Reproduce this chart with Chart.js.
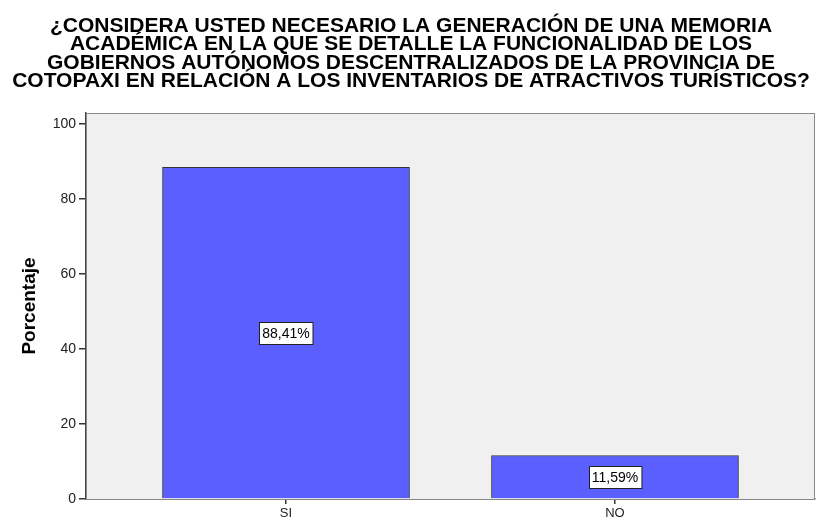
<!DOCTYPE html>
<html>
<head>
<meta charset="utf-8">
<script src="https://cdn.jsdelivr.net/npm/chart.js@4"></script>
<style>
  html, body { margin: 0; padding: 0; background: #fff; }
  #wrap { width: 817px; height: 524px; }
</style>
</head>
<body>
<div id="wrap"><canvas id="grafica" width="817" height="524"></canvas></div>
<script>
// ==============================
// Datos
// ==============================
const categorias = ["SI", "NO"];
const porcentajes = [88.41, 11.59];
const etiquetas = ["88,41%", "11,59%"];
const ticksY = [0, 20, 40, 60, 80, 100];
const titulo = [
  "¿CONSIDERA USTED NECESARIO LA GENERACIÓN DE UNA MEMORIA",
  "ACADÉMICA EN LA QUE SE DETALLE LA FUNCIONALIDAD DE LOS",
  "GOBIERNOS AUTÓNOMOS DESCENTRALIZADOS DE LA PROVINCIA DE",
  "COTOPAXI EN RELACIÓN A LOS INVENTARIOS DE ATRACTIVOS TURÍSTICOS?"
];

const fuente = "'Liberation Sans', Arial, sans-serif";

// ==============================
// Plugins
// ==============================
// titulo con interlineado apretado, como en el original
const tituloPlugin = {
  id: "tituloPlugin",
  afterDraw(chart) {
    const { ctx } = chart;
    ctx.save();
    ctx.font = "bold 21px " + fuente;
    ctx.fillStyle = "#000";
    ctx.textAlign = "center";
    ctx.textBaseline = "middle";
    titulo.forEach((linea, i) => {
      ctx.fillText(linea, 411, 26 + i * 18.5);
    });
    ctx.restore();
  }
};

const fondoPlot = {
  id: "fondoPlot",
  beforeDatasetsDraw(chart) {
    const { ctx, chartArea: a } = chart;
    ctx.save();
    ctx.fillStyle = "#f0f0f0";
    ctx.fillRect(a.left, a.top, a.right - a.left, a.bottom - a.top);
    ctx.strokeStyle = "#888";
    ctx.lineWidth = 1;
    ctx.strokeRect(a.left + 0.5, a.top + 0.5, a.right - a.left - 1, a.bottom - a.top);
    ctx.restore();
  }
};

const etiquetasBarras = {
  id: "etiquetasBarras",
  afterDatasetsDraw(chart) {
    const { ctx } = chart;
    const meta = chart.getDatasetMeta(0);
    ctx.save();
    ctx.font = "14px " + fuente;
    ctx.textAlign = "center";
    ctx.textBaseline = "middle";
    meta.data.forEach((bar, i) => {
      const txt = etiquetas[i];
      const w = ctx.measureText(txt).width + 6;
      const h = 22;
      const cy = (bar.y + bar.base) / 2;
      const x0 = Math.round(bar.x - w / 2) + 0.5;
      const y0 = Math.round(cy - h / 2) + 0.5;
      ctx.fillStyle = "#fff";
      ctx.fillRect(x0, y0, w, h);
      ctx.strokeStyle = "#222";
      ctx.lineWidth = 1;
      ctx.strokeRect(x0, y0, w, h);
      ctx.fillStyle = "#000";
      ctx.fillText(txt, bar.x, cy + 1);
    });
    ctx.restore();
  }
};

// ==============================
// Gráfica
// ==============================
const ctx = document.getElementById("grafica").getContext("2d");
new Chart(ctx, {
  type: "bar",
  data: {
    datasets: [{
      label: "Porcentaje",
      data: porcentajes.map((v, i) => ({ x: i + 1, y: v })),
      backgroundColor: "#5b5fff",
      borderColor: "#333",
      borderWidth: 1,
      barThickness: 247
    }]
  },
  options: {
    responsive: false,
    animation: false,
    layout: { padding: { left: 0, right: 2, top: 113, bottom: 0 } },
    plugins: {
      legend: { display: false },
      tooltip: { enabled: false },
      title: { display: false }
    },
    scales: {
      x: {
        type: "linear",
        offset: false,
        min: 0.392,
        max: 2.608,
        afterBuildTicks: s => { s.ticks = categorias.map((c, i) => ({ value: i + 1 })); },
        afterFit: s => { s.height = 25; },
        ticks: {
          color: "#222",
          font: { family: fuente, size: 13 },
          padding: 2,
          callback: v => categorias[v - 1] || ""
        },
        grid: { offset: false, drawOnChartArea: false, drawTicks: true, tickLength: 5, color: "#333", lineWidth: 1.5 },
        border: { display: true, color: "#444", width: 1.5 }
      },
      y: {
        min: 0,
        max: 102.93,
        afterBuildTicks: s => { s.ticks = ticksY.map(v => ({ value: v })); },
        afterFit: s => { s.width = 86; },
        title: {
          display: true,
          text: "Porcentaje",
          color: "#000",
          font: { family: fuente, size: 19, weight: "bold" },
          padding: { top: 18, bottom: 0 }
        },
        ticks: { color: "#222", font: { family: fuente, size: 14 }, padding: 3 },
        grid: { drawOnChartArea: false, drawTicks: true, tickLength: 7, color: "#333", lineWidth: 1.5 },
        border: { display: true, color: "#444", width: 1.5 }
      }
    }
  },
  plugins: [fondoPlot, etiquetasBarras, tituloPlugin]
});
</script>
</body>
</html>
